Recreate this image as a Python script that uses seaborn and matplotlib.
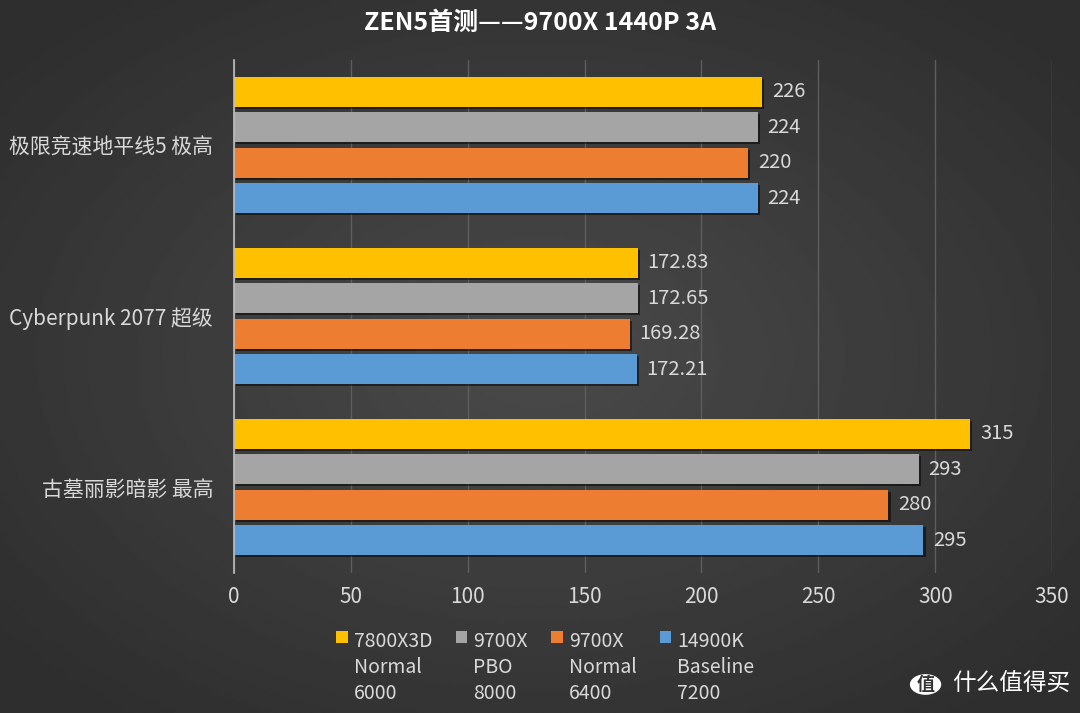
import numpy as np
import pandas as pd
import seaborn as sns
import matplotlib.pyplot as plt
import matplotlib.patheffects as pe
from matplotlib.patches import Circle

# Games (top to bottom) and CPU configs
games = ['极限竞速地平线5 极高', 'Cyberpunk 2077 超级', '古墓丽影暗影 最高']
cpus = ['7800X3D\nNormal\n6000', '9700X\nPBO\n8000', '9700X\nNormal\n6400', '14900K\nBaseline\n7200']

fps_7800x3d = [226, 172.83, 315]
fps_9700x_pbo = [224, 172.65, 293]
fps_9700x_normal = [220, 169.28, 280]
fps_14900k = [224, 172.21, 295]

colors = ['#FFC000', '#A5A5A5', '#ED7D31', '#5B9BD5']

series = [fps_7800x3d, fps_9700x_pbo, fps_9700x_normal, fps_14900k]
df = pd.DataFrame({
    'game': [g for vals in series for g in games],
    'cpu': [c for c, vals in zip(cpus, series) for _ in vals],
    'fps': [v for vals in series for v in vals],
})

sns.set_style('dark')
plt.rcParams['font.family'] = ['Noto Sans CJK SC', 'DejaVu Sans']
txt = '#D9D9D9'

fig = plt.figure(figsize=(10.8, 7.13), dpi=100)

# radial dark-gray background
bg = fig.add_axes([0, 0, 1, 1], zorder=-10)
yy, xx = np.mgrid[-1:1:300j, -1:1:450j]
r = np.sqrt(xx ** 2 + yy ** 2)
bg.imshow(0.29 - 0.11 * np.clip(r / 1.3, 0, 1), cmap='gray', vmin=0, vmax=1,
          aspect='auto', extent=[0, 1, 0, 1])
bg.axis('off')

ax = fig.add_axes([0.2167, 0.197, 0.7574, 0.7195])
ax.set_facecolor('none')

sns.barplot(data=df, y='game', x='fps', hue='cpu', order=games, hue_order=cpus,
            palette=colors, orient='h', width=0.83, gap=0.15, saturation=1,
            linewidth=0, ax=ax, legend=True)

for bars in ax.containers:
    for b in bars:
        b.set_path_effects([pe.SimplePatchShadow(offset=(1.5, -1.5), shadow_rgbFace='black', alpha=0.5),
                            pe.Normal()])
    ax.bar_label(bars, labels=[f'{b.get_width():g}' for b in bars], padding=7,
                 color=txt, fontsize=14.5)

ax.set_xlim(0, 350)
ax.set_xticks(range(0, 351, 50))
ax.grid(axis='x', color='#5E5E5E', linewidth=1)
ax.grid(axis='y', visible=False)
ax.set_axisbelow(True)
for s in ['top', 'right', 'bottom']:
    ax.spines[s].set_visible(False)
ax.spines['left'].set_color('#BFBFBF')
ax.spines['left'].set_linewidth(1.2)
ax.tick_params(axis='both', colors=txt, labelsize=15, length=0, pad=10)
ax.tick_params(axis='y', labelsize=15, pad=15)
ax.set_xlabel('')
ax.set_ylabel('')

handles, labels = ax.get_legend_handles_labels()
leg = ax.legend(handles, labels, loc='upper center', bbox_to_anchor=(0.505, 0.14),
                bbox_transform=fig.transFigure, ncol=4, frameon=False, fontsize=14,
                labelcolor=txt, handlelength=0.6, handleheight=0.6, handletextpad=0.3,
                columnspacing=1.2, labelspacing=0.2)
for t in leg.get_texts():
    t.set_linespacing(1.32)
# put each colour square beside the first line of its label
for col in leg._legend_handle_box.get_children():
    for row in col.get_children():
        row.align = 'top'

fig.text(0.5, 0.968, 'ZEN5首测——9700X 1440P 3A', ha='center', va='center',
         color='white', fontsize=18, fontweight='bold')

# watermark
fig.patches.append(Circle((0.857, 0.04), 0.0145, transform=fig.transFigure,
                          facecolor='white', edgecolor='none'))
fig.text(0.857, 0.04, '值', ha='center', va='center', color='#333333',
         fontsize=13, fontweight='bold')
fig.text(0.882, 0.04, '什么值得买', ha='left', va='center', color='white',
         fontsize=17)

fig.savefig('out.png', dpi=100)
